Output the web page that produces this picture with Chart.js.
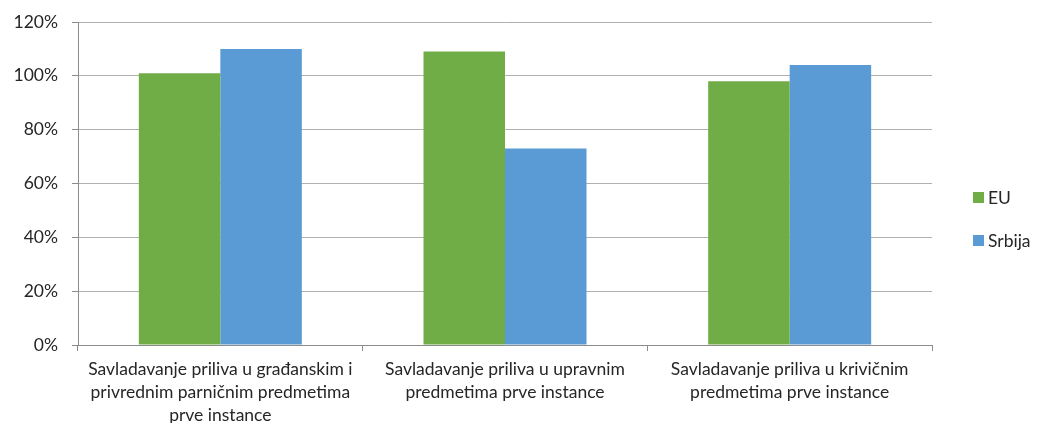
<!DOCTYPE html>
<html>
<head>
<meta charset="utf-8">
<script src="https://cdn.jsdelivr.net/npm/chart.js@4.4.1/dist/chart.umd.min.js"></script>
<style>
  html, body { margin: 0; padding: 0; background: #ffffff; }
  #wrap { width: 1039px; height: 423px; position: relative; }
</style>
</head>
<body>
<div id="wrap"><canvas id="chart" width="1039" height="423"></canvas></div>
<script>
// Categories (multi-line axis labels)
const categories = [
  ["Savladavanje priliva u građanskim i", "privrednim parničnim predmetima", "prve instance"],
  ["Savladavanje priliva u upravnim", "predmetima prve instance"],
  ["Savladavanje priliva u krivičnim", "predmetima prve instance"]
];

// Series values, in percent
const euValues = [101, 109, 98];
const srbijaValues = [110, 73, 104];

// Y axis tick values, in percent
const yTicks = [0, 20, 40, 60, 80, 100, 120];

const FONT_FAMILY = "Lato, 'Open Sans', 'Noto Sans', sans-serif";
const FONT_SIZE = 17.5;
const TEXT_COLOR = '#262626';
const AXIS_COLOR = '#8c8c8c';
const GRID_COLOR = '#b0b0b0';

// Legend drawn to the right of the plot area
const sideLegend = {
  id: 'sideLegend',
  afterDraw(chart) {
    const ctx = chart.ctx;
    const area = chart.chartArea;
    const x0 = area.right + 41;
    const yCenters = [197, 240];
    ctx.save();
    ctx.font = FONT_SIZE + "px " + FONT_FAMILY;
    ctx.textBaseline = 'middle';
    ctx.textAlign = 'left';
    chart.data.datasets.forEach((ds, i) => {
      const y = yCenters[i];
      ctx.fillStyle = ds.backgroundColor;
      ctx.fillRect(x0, y - 5, 11, 11);
      ctx.fillStyle = TEXT_COLOR;
      ctx.fillText(ds.label, x0 + 15, y + 1);
    });
    ctx.restore();
  }
};

new Chart(document.getElementById('chart'), {
  type: 'bar',
  data: {
    labels: categories,
    datasets: [
      { label: 'EU', data: euValues, backgroundColor: '#70ad47' },
      { label: 'Srbija', data: srbijaValues, backgroundColor: '#5b9bd5' }
    ]
  },
  options: {
    responsive: false,
    animation: false,
    devicePixelRatio: 1,
    layout: { padding: { top: 22, right: 107, left: 0, bottom: 0 } },
    datasets: {
      bar: { categoryPercentage: 0.5726, barPercentage: 1.0 }
    },
    plugins: {
      legend: { display: false },
      tooltip: { enabled: false }
    },
    scales: {
      x: {
        offset: true,
        grid: {
          offset: true,
          drawOnChartArea: false,
          drawTicks: true,
          tickLength: 6,
          color: AXIS_COLOR
        },
        border: { display: true, color: AXIS_COLOR, width: 1 },
        ticks: {
          color: TEXT_COLOR,
          font: { family: FONT_FAMILY, size: FONT_SIZE, lineHeight: '23px' },
          padding: 7,
          maxRotation: 0,
          autoSkip: false
        },
        afterFit(scale) { scale.height = 78; }
      },
      y: {
        min: 0,
        max: 120,
        afterBuildTicks(scale) { scale.ticks = yTicks.map(v => ({ value: v })); },
        grid: {
          color: GRID_COLOR,
          tickColor: AXIS_COLOR,
          tickLength: 6,
          drawTicks: true
        },
        border: { display: true, color: AXIS_COLOR, width: 1 },
        ticks: {
          color: TEXT_COLOR,
          font: { family: FONT_FAMILY, size: FONT_SIZE },
          padding: 14,
          callback: v => v + '%'
        },
        afterFit(scale) {
          scale.width = 78;
          scale.paddingTop = 0;
          scale.paddingBottom = 0;
        }
      }
    }
  },
  plugins: [sideLegend]
});
</script>
</body>
</html>
